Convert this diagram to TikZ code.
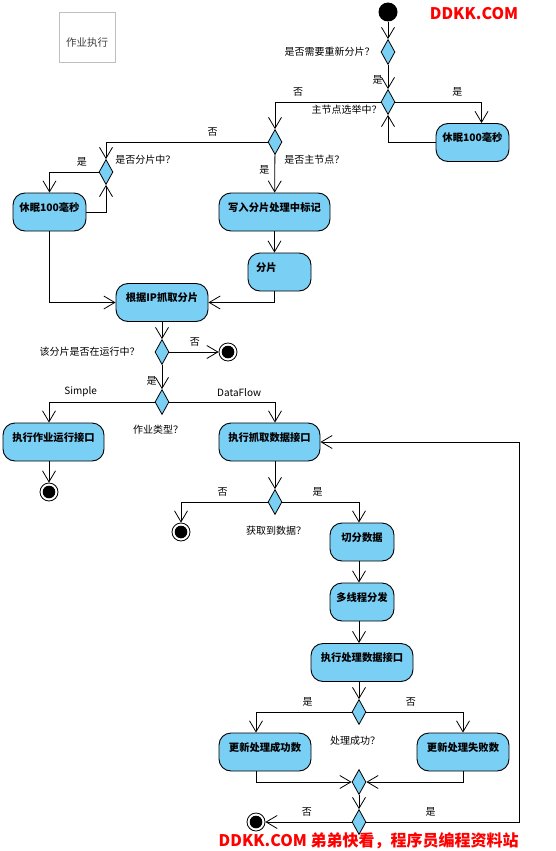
\documentclass[tikz,border=0pt]{standalone}
\usepackage{fontspec}
\setmainfont{Noto Sans CJK SC}
\usetikzlibrary{arrows.meta,shapes.geometric,positioning}
\definecolor{actblue}{RGB}{122,207,245}
\definecolor{wmred}{RGB}{255,0,0}

\begin{document}
\begin{tikzpicture}[x=1pt,y=-1pt,>={Straight Barb[length=11pt,width=13pt]},line width=0.8pt,align=center,
    act/.style={draw,line width=0.9pt,rounded corners=12pt,fill=actblue,font=\bfseries\fontsize{10.3}{12}\selectfont,inner ysep=0pt,text height=18pt,text depth=20pt},
    dec/.style={diamond,draw,fill=actblue,minimum width=14pt,minimum height=25pt,inner sep=0pt},
    final/.style={circle,draw,fill=white,minimum size=18pt,inner sep=0pt,path picture={\fill[black] (path picture bounding box.center) circle (6.3pt);}},
    lbl/.style={font=\fontsize{10}{12}\selectfont,inner sep=1pt},
    lab/.style={font=\fontsize{10}{12}\selectfont,inner sep=5pt},
    wmark/.style={font=\bfseries\fontsize{16}{20}\selectfont,text=wmred,inner sep=0pt}]
		\useasboundingbox (0,0) rectangle (556,851);
		\node[draw=black!25,line width=0.6pt,minimum width=56pt,inner ysep=0pt,text height=35pt,text depth=15pt,text=black!75,font=\fontsize{10.5}{12}\selectfont] (title) at (87,37) {作业执行};
		% start and decisions
		\node[circle,fill=black,minimum size=19pt,inner sep=0pt] (start) at (388,12) {};
		\node[dec] (d1) at (388,52) {};
		\node[dec] (d2) at (388,102) {};
		\node[dec] (d3) at (275,142) {};
		\node[dec] (d4) at (106,172) {};
		\node[dec] (d5) at (162,352) {};
		\node[dec] (d6) at (162,402) {};
		\node[dec] (d7) at (275,502) {};
		\node[dec] (d8) at (359,712) {};
		\node[dec] (d9) at (359,782) {};
		\node[dec] (d10) at (359,822) {};
		\node[lbl,anchor=east] (q1) at (376,52) {是否需要重新分片？};
		\node[lbl,anchor=east] (q2) at (383,110) {主节点选举中？};
		\node[lbl,anchor=west] (q3) at (283,160) {是否主节点？};
		\node[lbl,anchor=west] (q4) at (114,160) {是否分片中？};
		\node[lbl,anchor=east] (q5) at (141,352) {该分片是否在运行中？};
		\node[lbl] (q6) at (158,430) {作业类型？};
		\node[lbl] (q7) at (276,531) {获取到数据？};
		\node[lbl] (q8) at (355,741) {处理成功？};
		% activities
		\node[act,minimum width=73pt] (sleepR) at (472.5,142.5) {休眠100毫秒};
		\node[act,minimum width=73pt] (sleepL) at (49.5,212) {休眠100毫秒};
		\node[act,minimum width=111pt] (mark) at (274.5,212) {写入分片处理中标记};
		\node[act,minimum width=63pt,text width=47pt,align=left,inner xsep=8pt] (shard) at (279.5,272) {分片};
		\node[act,minimum width=92pt] (fetch) at (162,302.5) {根据IP抓取分片};
		\node[act,minimum width=101pt] (runjob) at (53.5,442) {执行作业运行接口};
		\node[act,minimum width=101pt] (pull) at (269.5,442) {执行抓取数据接口};
		\node[act,minimum width=64pt] (split) at (362,542) {切分数据};
		\node[act,minimum width=64pt] (dispatch) at (362,602) {多线程分发};
		\node[act,minimum width=102pt] (proc) at (362,662.5) {执行处理数据接口};
		\node[act,minimum width=92pt] (ok) at (265,752) {更新处理成功数};
		\node[act,minimum width=92pt] (fail) at (463,752) {更新处理失败数};
		% finals
		\node[final] (f1) at (228,352) {};
		\node[final] (f2) at (49,492) {};
		\node[final] (f3) at (181,532) {};
		\node[final] (f4) at (256,822) {};
		% flows
		\draw[->] (start) -- (d1);
		\draw[->] (d1) -- node[lab,left,pos=0.64] {是} (d2);
		\draw[->] (d2.east) -| node[lab,above,pos=0.36] {是} ([xshift=9pt]sleepR.north);
		\draw[->] (d2.west) -| node[lab,above,pos=0.39] {否} (d3.north);
		\draw[->] (sleepR.west) -| (d2.south);
		\draw[->] (d3.west) -| node[lab,above,pos=0.17] {否} (d4.north);
		\draw[->] (d3) -- node[lab,left,pos=0.41] {是} (mark);
		\draw[->] (d4.west) -| node[lab,above,pos=0.17] {是} (sleepL.north);
		\draw[->] (sleepL.east) -| (d4.south);
		\draw[->] (mark.south) -- (mark.south |- shard.north);
		\draw[->] (shard.south -| mark.south) |- (fetch.east);
		\draw[->] (sleepL.south) |- (fetch.west);
		\draw[->] (fetch) -- (d5);
		\draw[->] (d5) -- node[lab,above,pos=0.52] {否} (f1);
		\draw[->] (d5) -- node[lab,left,pos=0.67] {是} (d6);
		\draw[->] (d6.west) -| node[lab,above,pos=0.35] {Simple} (runjob.north -| f2);
		\draw[->] (d6.east) -| node[lab,above,pos=0.33] {DataFlow} (pull.north -| d7);
		\draw[->] (runjob.south -| f2) -- (f2);
		\draw[->] (pull.south -| d7) -- (d7);
		\draw[->] (d7.west) -| node[lab,above,pos=0.26] {否} (f3.north);
		\draw[->] (d7.east) -| node[lab,above,pos=0.23] {是} (split.north -| d8);
		\draw[->] (split.south -| d8) -- (dispatch.north -| d8);
		\draw[->] (dispatch.south -| d8) -- (proc.north -| d8);
		\draw[->] (proc.south -| d8) -- (d8);
		\draw[->] (d8.west) -| node[lab,above,pos=0.23] {是} ([xshift=-9pt]ok.north);
		\draw[->] (d8.east) -| node[lab,above,pos=0.23] {否} (fail.north);
		\draw[->] ([xshift=-9pt]ok.south) |- (d9.west);
		\draw[->] (fail.south) |- (d9.east);
		\draw[->] (d9) -- (d10);
		\draw[->] (d10) -- node[lab,above,pos=0.52] {否} (f4);
		\draw[->] (d10.east) -- node[lab,above,pos=0.42] {是} ++(153,0) |- (pull.east);
		% watermarks
		\node[wmark] (wmtop) at (474,14) {DDKK.COM};
		\node[wmark,anchor=east] (wmbot) at (519,841) {DDKK.COM 弟弟快看，程序员编程资料站};
	\end{tikzpicture}
\end{document}
